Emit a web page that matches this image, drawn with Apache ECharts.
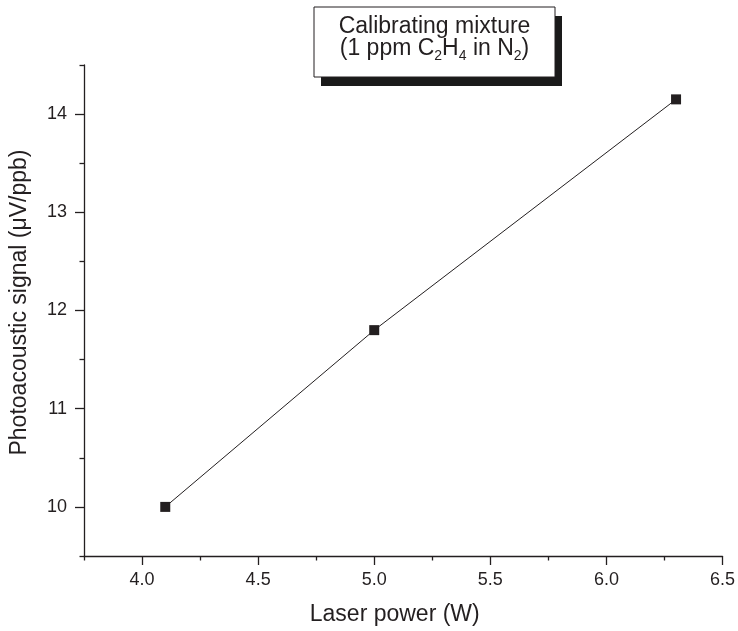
<!DOCTYPE html>
<html>
<head>
<meta charset="utf-8">
<script src="https://cdn.jsdelivr.net/npm/echarts@6/dist/echarts.min.js"></script>
<style>
  html, body { margin: 0; padding: 0; background: #fff; }
  #chart { width: 738px; height: 631px; }
</style>
</head>
<body>
<div id="chart"></div>
<script>
// laser power (W) vs photoacoustic signal (uV/ppb)
const powerW = [4.1, 5.0, 6.3];
const signal = [10.0, 11.8, 14.15];

// tick values
const xMajorTicks = [4.0, 4.5, 5.0, 5.5, 6.0, 6.5];
const xMinorTicks = [3.75, 4.25, 4.75, 5.25, 5.75, 6.25];
const yMajorTicks = [10, 11, 12, 13, 14];
const yMinorTicks = [9.5, 10.5, 11.5, 12.5, 13.5, 14.5];

const ink = '#231f20';
const font = 'Liberation Sans, Arial, Helvetica, sans-serif';

let chartInstance = echarts.init(document.getElementById('chart'));

let points = [];
for (let i = 0; i < powerW.length; i++) {
  points.push([powerW[i], signal[i]]);
}

let option = {
  animation: false,
  backgroundColor: '#fff',
  textStyle: { fontFamily: font, color: ink },
  grid: { left: 83, right: 14.5, top: 65, bottom: 75 },
  xAxis: [
    {
      type: 'value',
      min: 3.75,
      max: 6.5,
      position: 'bottom',
      name: 'Laser power (W)',
      nameLocation: 'middle',
      nameGap: 47,
      nameTextStyle: { fontSize: 23, color: ink, fontFamily: font, padding: [0, 17, 0, 0] },
      axisLine: { show: true, lineStyle: { color: ink, width: 1.3 } },
      axisTick: { show: true, inside: false, length: 9, customValues: xMajorTicks, lineStyle: { color: ink, width: 1.3 } },
      axisLabel: {
        customValues: xMajorTicks,
        margin: 15,
        fontSize: 18,
        color: ink,
        fontFamily: font,
        formatter: function (v) { return v.toFixed(1); }
      },
      splitLine: { show: false }
    },
    {
      // minor ticks only
      type: 'value',
      min: 3.75,
      max: 6.5,
      position: 'bottom',
      axisLine: { show: false },
      axisTick: { show: true, inside: false, length: 4.5, customValues: xMinorTicks, lineStyle: { color: ink, width: 1.3 } },
      axisLabel: { show: false },
      splitLine: { show: false }
    }
  ],
  yAxis: [
    {
      type: 'value',
      min: 9.5,
      max: 14.5,
      position: 'left',
      name: 'Photoacoustic signal (\u03bcV/ppb)',
      nameLocation: 'middle',
      nameGap: 53,
      nameTextStyle: { fontSize: 23, color: ink, fontFamily: font, padding: [0, 0, 0, 16] },
      axisLine: { show: true, lineStyle: { color: ink, width: 1.3 } },
      axisTick: { show: true, inside: false, length: 9, customValues: yMajorTicks, lineStyle: { color: ink, width: 1.3 } },
      axisLabel: { customValues: yMajorTicks, margin: 17, fontSize: 18, color: ink, fontFamily: font },
      splitLine: { show: false }
    },
    {
      type: 'value',
      min: 9.5,
      max: 14.5,
      position: 'left',
      axisLine: { show: false },
      axisTick: { show: true, inside: false, length: 4.5, customValues: yMinorTicks, lineStyle: { color: ink, width: 1.3 } },
      axisLabel: { show: false },
      splitLine: { show: false }
    }
  ],
  series: [
    {
      type: 'line',
      xAxisIndex: 0,
      yAxisIndex: 0,
      data: points,
      symbol: 'rect',
      symbolSize: 10,
      itemStyle: { color: ink },
      lineStyle: { color: ink, width: 1 },
      silent: true
    }
  ],
  graphic: [
    {
      type: 'group',
      children: [
        {
          type: 'rect',
          shape: { x: 321, y: 16, width: 241, height: 70 },
          style: { fill: '#1a1a1a' }
        },
        {
          type: 'rect',
          shape: { x: 314, y: 7, width: 241, height: 70 },
          style: { fill: '#fff', stroke: ink, lineWidth: 1 }
        },
        {
          type: 'text',
          x: 434.5,
          y: 27,
          style: {
            text: 'Calibrating mixture',
            fontSize: 23,
            fontFamily: font,
            fill: ink,
            align: 'center',
            verticalAlign: 'middle'
          }
        },
        {
          type: 'text',
          x: 434.5,
          y: 48.5,
          style: {
            text: '(1 ppm C{s|2}H{s|4} in N{s|2})',
            fontSize: 23,
            fontFamily: font,
            fill: ink,
            align: 'center',
            verticalAlign: 'middle',
            rich: {
              s: { fontSize: 14, fontFamily: font, fill: ink, padding: [15, 0, 0, 0] }
            }
          }
        }
      ]
    }
  ]
};

chartInstance.setOption(option);
</script>
</body>
</html>
